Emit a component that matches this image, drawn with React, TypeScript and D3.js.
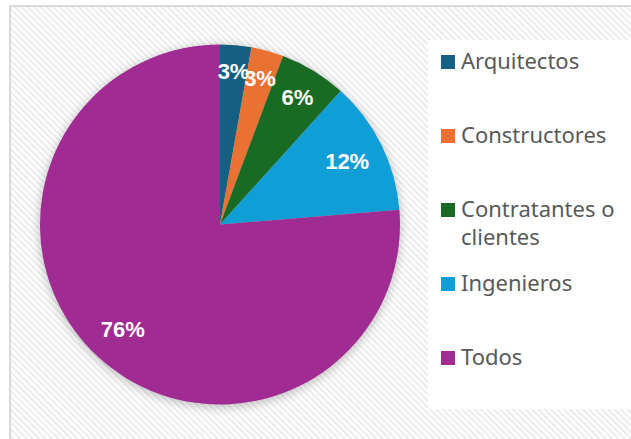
import React, { useEffect, useRef } from 'react';
import * as d3 from 'd3';

// Chart data
const categories = ['Arquitectos', 'Constructores', 'Contratantes o clientes', 'Ingenieros', 'Todos'];
const values = [2.8, 2.9, 6.0, 12.0, 76.3];
const colors = ['#156082', '#E97132', '#196B24', '#0F9ED5', '#A02B93'];
const legendLines = [['Arquitectos'], ['Constructores'], ['Contratantes o', 'clientes'], ['Ingenieros'], ['Todos']];

const App = () => {
  const ref = useRef<SVGSVGElement | null>(null);

  useEffect(() => {
    const width = 631;
    const height = 439;
    const cx = 220;
    const cy = 224.5;
    const radius = 180;

    const svg = d3.select(ref.current);
    svg.selectAll('*').remove();
    svg.attr('width', width).attr('height', height);

    const defs = svg.append('defs');

    // diagonal hatch background
    const pattern = defs
      .append('pattern')
      .attr('id', 'hatch')
      .attr('patternUnits', 'userSpaceOnUse')
      .attr('width', 4.5)
      .attr('height', 4.5)
      .attr('patternTransform', 'rotate(-45)');
    pattern.append('rect').attr('width', 4.5).attr('height', 4.5).attr('fill', '#ffffff');
    pattern.append('rect').attr('width', 2.2).attr('height', 4.5).attr('fill', '#ededed');

    const shadow = defs.append('filter').attr('id', 'shadow').attr('x', '-20%').attr('y', '-20%').attr('width', '140%').attr('height', '140%');
    shadow.append('feGaussianBlur').attr('stdDeviation', 5);

    svg.append('rect').attr('width', width).attr('height', height).attr('fill', '#ffffff');
    svg
      .append('rect')
      .attr('x', 10)
      .attr('y', 6)
      .attr('width', width + 20)
      .attr('height', height + 20)
      .attr('fill', 'url(#hatch)')
      .attr('stroke', '#d9d9d9')
      .attr('stroke-width', 2);

    // legend box
    svg.append('rect').attr('x', 428).attr('y', 40).attr('width', 210).attr('height', 369).attr('fill', '#ffffff');

    const g = svg.append('g').attr('transform', `translate(${cx},${cy})`);

    // pie shadow
    g.append('circle')
      .attr('cx', 0)
      .attr('cy', 2)
      .attr('r', radius + 1)
      .attr('fill', '#000')
      .attr('opacity', 0.22)
      .attr('filter', 'url(#shadow)');

    const pie = d3.pie<number>().sort(null).value(d => d);
    const arcs = pie(values);
    const arc = d3.arc<d3.PieArcDatum<number>>().innerRadius(0).outerRadius(radius);

    g.selectAll('path.slice')
      .data(arcs)
      .enter()
      .append('path')
      .attr('class', 'slice')
      .attr('d', arc)
      .attr('fill', (_d, i) => colors[i]);

    // labels at "inside end": push each label box out until its far corner nears the rim
    const maxDist = radius - 14;
    g.selectAll('text.lbl')
      .data(arcs)
      .enter()
      .append('text')
      .attr('class', 'lbl')
      .attr('text-anchor', 'middle')
      .attr('dominant-baseline', 'central')
      .attr('fill', '#ffffff')
      .attr('font-family', '"Liberation Sans", Arial, sans-serif')
      .attr('font-weight', 'bold')
      .attr('font-size', 22)
      .text(d => `${Math.round(d.data)}%`)
      .each(function (d) {
        const node = this as SVGTextElement;
        const hw = node.getComputedTextLength() / 2;
        const hh = 10;
        const a = (d.startAngle + d.endAngle) / 2;
        const dx = Math.sin(a);
        const dy = -Math.cos(a);
        let lo = 0;
        let hi = radius;
        for (let k = 0; k < 30; k++) {
          const r = (lo + hi) / 2;
          const fx = Math.abs(r * dx) + hw;
          const fy = Math.abs(r * dy) + hh;
          if (Math.hypot(fx, fy) <= maxDist) lo = r;
          else hi = r;
        }
        d3.select(node).attr('transform', `translate(${lo * dx},${lo * dy})`);
      });

    // legend
    const legendY = d3.scaleLinear().domain([0, categories.length - 1]).range([55, 351]);
    const legend = svg
      .selectAll('g.legend')
      .data(categories)
      .enter()
      .append('g')
      .attr('class', 'legend')
      .attr('transform', (_d, i) => `translate(441,${legendY(i)})`);

    legend.append('rect').attr('width', 14).attr('height', 14).attr('fill', (_d, i) => colors[i]);

    legend
      .append('text')
      .attr('x', 20)
      .attr('y', 14)
      .attr('fill', '#595959')
      .attr('font-family', '"Noto Sans", "Open Sans", sans-serif')
      .attr('font-size', 22)
      .each(function (_d, i) {
        const t = d3.select(this);
        legendLines[i].forEach((line, j) => {
          t.append('tspan').attr('x', 20).attr('dy', j === 0 ? 0 : 28).text(line);
        });
      });
  }, []);

  return <svg ref={ref} style={{ position: 'absolute', left: 0, top: 0 }} />;
};

export default App;
